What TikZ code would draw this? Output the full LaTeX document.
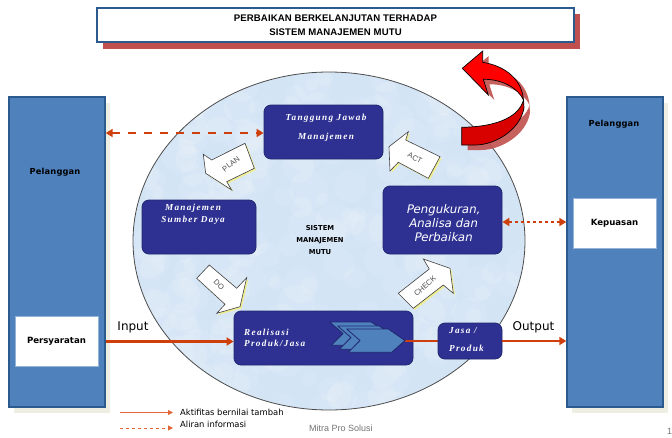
\documentclass[tikz,border=0pt]{standalone}
\usepackage{fontspec}
\usetikzlibrary{arrows.meta,calc}
\setmainfont{Liberation Sans}
\newfontfamily\titlef[LetterSpace=1]{Liberation Sans}
\newfontfamily\panelf[LetterSpace=2]{DejaVu Sans}
\newfontfamily\tahoma{DejaVu Sans}
\newfontfamily\obl[FakeSlant=0.2]{DejaVu Sans}
\newfontfamily\serifit[LetterSpace=14]{Liberation Serif}
\definecolor{panel}{HTML}{4F81BD}
\definecolor{panelb}{HTML}{2A5A8E}
\definecolor{navy}{HTML}{2E3192}
\definecolor{navyb}{HTML}{20286E}
\definecolor{flow}{HTML}{CF3F0C}
\definecolor{legendc}{HTML}{E2663A}
\definecolor{beige}{HTML}{EEEEE2}
\definecolor{sky}{HTML}{D3E4F5}
\definecolor{redshadow}{HTML}{C0504D}
\definecolor{yel}{HTML}{F0EE90}
\tikzset{
  panelbox/.style={draw=panelb,line width=1.4pt,fill=panel,inner sep=0pt},
  panelshadow/.style={fill=beige,draw=none},
  whitebox/.style={draw=panel!60,line width=.6pt,fill=white,inner sep=0pt,minimum width=83pt,minimum height=50pt,font=\tahoma\bfseries\fontsize{8.6}{10}\selectfont},
  process/.style={draw=navyb,line width=.8pt,fill=navy,rounded corners=7pt,inner sep=0pt},
  italw/.style={text=white,inner sep=0pt,font=\serifit\bfseries\itshape\fontsize{9.2}{10}\selectfont},
  block/.style={draw=black!75,line width=.6pt,fill=white,line join=miter},
  blocklabel/.style={inner sep=0pt,text=black!70,font=\fontsize{7.5}{8}\selectfont},
  flowarrow/.style={draw=flow,line width=2.4pt,-{Triangle[length=7pt,width=8pt]}},
  flowboth/.style={draw=flow,line width=2.4pt,{Triangle[length=7pt,width=8pt]}-{Triangle[length=7pt,width=8pt]}},
  legendarrow/.style={draw=legendc,line width=.9pt,-{Triangle[length=5pt,width=5pt]}},
  chev/.style={fill=panel,draw=navyb,line width=.8pt,line join=round},
  plainlabel/.style={inner sep=0pt,font=\tahoma\fontsize{8.4}{10}\selectfont},
  bigword/.style={inner sep=0pt,font=\tahoma\fontsize{12}{13}\selectfont}
}
\begin{document}
\begin{tikzpicture}[x=1pt,y=-1pt]
\useasboundingbox (0,0) rectangle (672,437);
% title
\fill[redshadow] (103,14) rectangle (580,49);
\node[draw=panelb,line width=1.4pt,fill=white,minimum width=477pt,minimum height=34pt,inner sep=0pt,align=center,font=\titlef\bfseries\fontsize{9.6}{14}\selectfont] (title) at (335.5,25)
  {PERBAIKAN BERKELANJUTAN TERHADAP\\SISTEM MANAJEMEN MUTU};
% side panels
\fill[panelshadow] (14,103) rectangle (110,413);
\fill[panelshadow] (572,103) rectangle (668,413);
\node[panelbox,minimum width=96pt,minimum height=310pt] (lp) at (57,252) {};
\node[panelbox,minimum width=96pt,minimum height=310pt] (rp) at (615,252) {};
% circle
\begin{scope}
\clip (329,241) ellipse [x radius=196,y radius=169];
\fill[sky] (133,72) rectangle (525,410);
\pgfmathsetseed{7}
\foreach \k in {1,...,260}{
  \pgfmathsetmacro{\px}{133+392*rnd}
  \pgfmathsetmacro{\py}{72+338*rnd}
  \pgfmathsetmacro{\pr}{6+14*rnd}
  \fill[white,opacity=.10] (\px,\py) circle [radius=\pr];
}
\end{scope}
\draw[black!70,line width=.8pt] (329,241) ellipse [x radius=196,y radius=169];
% process boxes
\node[process,minimum width=119pt,minimum height=54pt] (tj) at (323.5,132) {};
\node[process,minimum width=114pt,minimum height=54pt] (sd) at (199,227) {};
\node[process,minimum width=119pt,minimum height=68pt] (peng) at (442.5,220) {};
\node[process,minimum width=179pt,minimum height=54pt] (real) at (323.5,338) {};
% white boxes
\node[whitebox] (persy) at (56.5,341.5) {Persyaratan};
\node[whitebox] (kep) at (614.5,223) {Kepuasan};
% connectors
\coordinate (chevtip) at (405,341);
\draw[draw=flow,line width=2.4pt] (chevtip) -- (438,341);
\node[process,minimum width=64pt,minimum height=36pt] (jasa) at (470,341) {};
\draw[flowarrow] (lp.east |- persy) -- (real.west |- persy);
\draw[flowarrow] (jasa.east) -- (rp.west |- jasa);
\draw[flowboth,dash pattern=on 8pt off 8pt] ($(lp.east |- tj.west)+(0,1)$) -- ($(tj.west)+(0,1)$);
\draw[flowboth,dash pattern=on 3pt off 3pt] ($(peng.east |- kep)+(0,-1)$) -- ($(rp.west |- kep)+(0,-1)$);
% box texts
\node[italw] (t1) at (326,118) {Tanggung Jawab};
\node[italw] (t2) at (326,137) {Manajemen};
\node[italw] (s1) at (193,208) {Manajemen};
\node[italw] (s2) at (193,220) {Sumber Daya};
\node[inner sep=0pt,text=white,align=center,font=\obl\fontsize{11.8}{14.2}\selectfont] (p1) at (443,223) {Pengukuran,\\Analisa dan\\Perbaikan};
\node[italw,anchor=west] (r1) at (244,332) {Realisasi};
\node[italw,anchor=west] (r2) at (244,343.5) {Produk/Jasa};
\node[italw,anchor=west] (j1) at (449,331) {Jasa /};
\node[italw,anchor=west] (j2) at (449,348) {Produk};
% centre text
\node[inner sep=0pt,align=center,font=\tahoma\bfseries\fontsize{6.8}{12}\selectfont] (sm) at (320,240) {SISTEM\\MANAJEMEN\\MUTU};
% panel text
\node[inner sep=0pt,font=\panelf\bfseries\fontsize{8.3}{9}\selectfont] (pl) at (55,172) {Pelanggan};
\node[inner sep=0pt,font=\panelf\bfseries\fontsize{8.3}{9}\selectfont] (pr) at (614,124.5) {Pelanggan};
% chevrons
\foreach \dx/\dy in {-17/-7,-9/-3,0/0}{
  \draw[chev,shift={(\dx,\dy)}] (346.7,329) -- (388.3,329) -- (405,340.5) -- (391.7,352.3) -- (348.3,352.3) -- (360,340.5) -- cycle;
}
% block arrows
\def\planpath{(245,143.3) -- (211.7,160) -- (203.3,154.3) -- (205.7,173.3) -- (231.7,190) -- (226.7,181.7) -- (254.3,168.3) -- cycle}
\def\dopath{(209.3,265) -- (196.7,278.3) -- (225,304.3) -- (216.7,313.3) -- (240,306.7) -- (246.7,277.7) -- (236.7,288.3) -- cycle}
\def\actpath{(408.3,131.7) -- (389,146.7) -- (390,171) -- (398.3,162.3) -- (428.3,178.3) -- (440,156.7) -- (405.7,140) -- cycle}
\def\checkpath{(398.3,293.3) -- (413.3,308.3) -- (443.3,285) -- (453.3,293.3) -- (450,268.3) -- (423.3,259) -- (429.3,269) -- cycle}
\foreach \pth in {\planpath,\dopath,\actpath,\checkpath}{
  \edef\tmpdraw{\noexpand\fill[yel,shift={(1.6,1.6)}] \pth; \noexpand\draw[block] \pth;}
  \tmpdraw
}
\node[blocklabel,rotate=38] (plan) at (231,164) {PLAN};
\node[blocklabel,rotate=-45] (do) at (219,285) {DO};
\node[blocklabel,rotate=-27] (act) at (415,158) {ACT};
\node[blocklabel,rotate=42] (check) at (425,286) {CHECK};
% big red arrow
\begin{scope}[shift={(6,5)}]
\fill[redshadow,opacity=.9] (462.3,68.3) -- (482.7,51) -- (482.7,62.3) .. controls (506,66) and (522,80) .. (523.5,100) -- (524,108) .. controls (520,130) and (495,145) .. (475,145) -- (461.7,145) -- (461.7,127.3) .. controls (490,127) and (518,120) .. (523.5,100) .. controls (518,88) and (502,79) .. (483.3,79.3) -- (488.3,95) -- cycle;
\end{scope}
\draw[fill=red!85!black,draw=black,line width=.7pt] (461.7,127.3) .. controls (490,127) and (518,120) .. (523.5,100) -- (524,108) .. controls (520,130) and (495,145) .. (475,145) -- (461.7,145) -- cycle;
\draw[fill=red,draw=black,line width=.7pt] (462.3,68.3) -- (482.7,51) -- (482.7,62.3) .. controls (506,66) and (522,80) .. (523.5,100) .. controls (518,88) and (502,79) .. (483.3,79.3) -- (488.3,95) -- cycle;
% labels
\node[bigword] (inp) at (133,327) {Input};
\node[bigword] (outp) at (533.5,327) {Output};
% legend
\coordinate (la) at (120,412.5);
\coordinate (lb) at (173,412.5);
\coordinate (lc) at (120,428);
\coordinate (ld) at (173,428);
\draw[legendarrow] (la) -- (lb);
\draw[legendarrow,dashed] (lc) -- (ld);
\node[plainlabel,anchor=west] (lt1) at (180,412) {Aktifitas bernilai tambah};
\node[plainlabel,anchor=west] (lt2) at (180,424.5) {Aliran informasi};
\node[inner sep=0pt,text=black!55,anchor=west,font=\fontsize{9}{10}\selectfont] (mps) at (309,428.5) {Mitra Pro Solusi};
\node[inner sep=0pt,text=black!55,anchor=west,font=\fontsize{9}{10}\selectfont] (pg) at (667,431) {1};
\end{tikzpicture}
\end{document}
